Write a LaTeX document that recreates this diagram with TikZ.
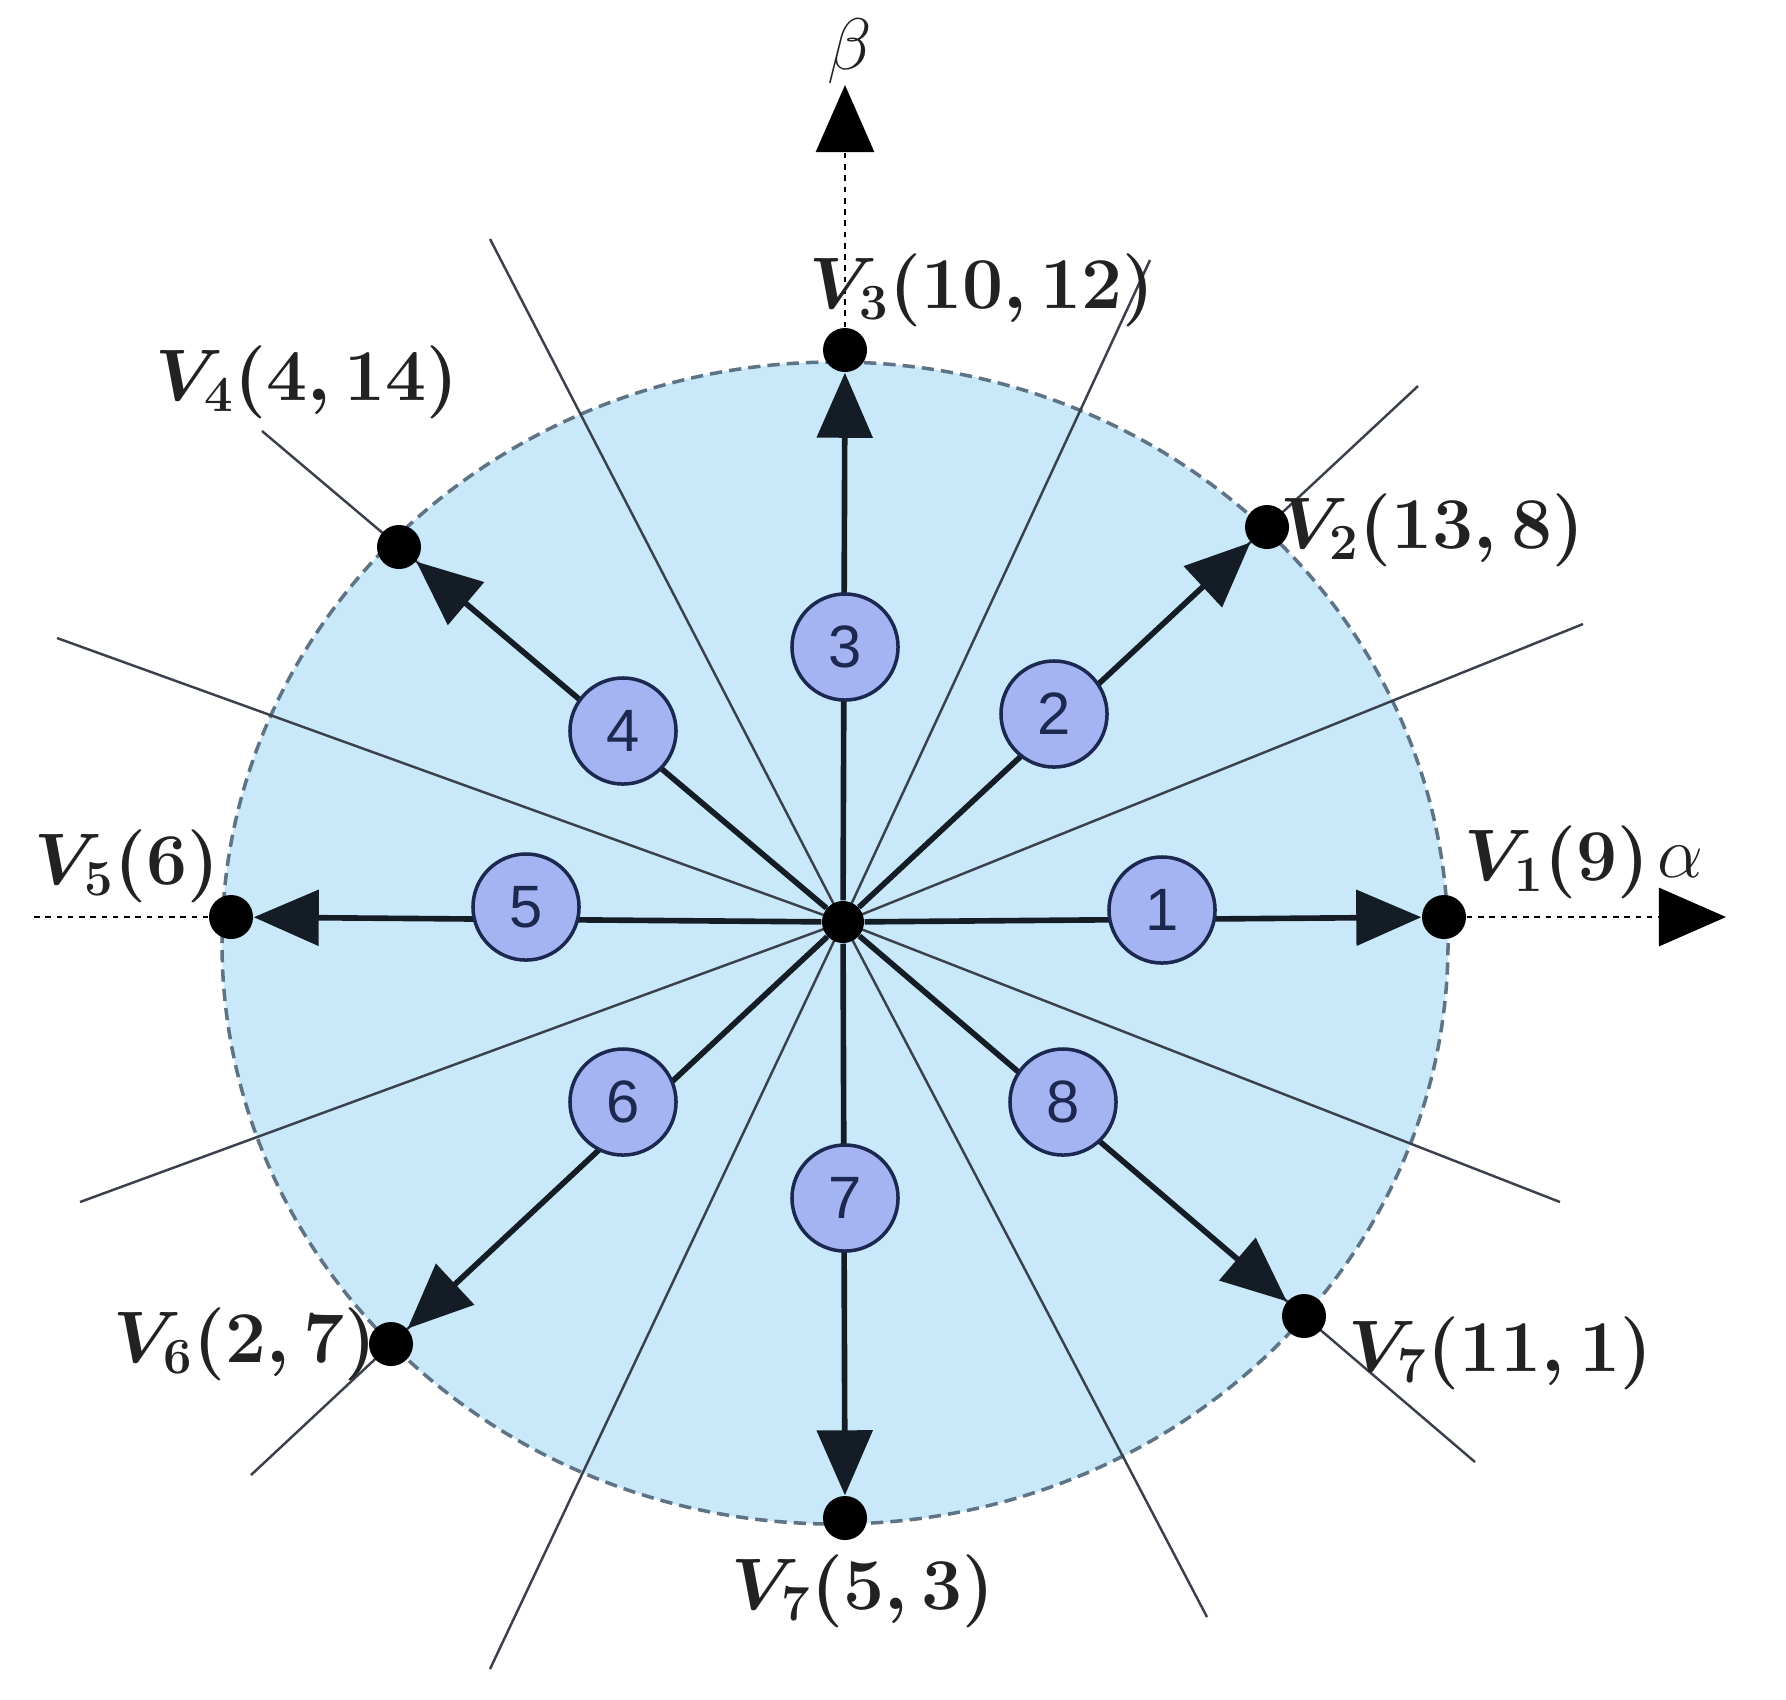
\documentclass[tikz,border=0pt]{standalone}
\usepackage{fontspec}
\newfontfamily\numfont{Liberation Sans}
\usetikzlibrary{arrows.meta}
\definecolor{diskfill}{HTML}{C9E8FA}
\definecolor{diskline}{HTML}{5E7384}
\definecolor{numfill}{HTML}{A4B4F2}
\definecolor{navy}{HTML}{1C2850}
\definecolor{vecline}{HTML}{141C26}
\definecolor{thinline}{HTML}{3A414C}
\definecolor{labtext}{HTML}{222222}
\begin{document}
\begin{tikzpicture}[x=0.01cm,y=-0.01cm,
  sector/.style={line width=0.7pt, draw=thinline},
  vec/.style={line width=1.6pt, draw=vecline, -{Triangle[length=0.65cm,width=0.55cm]}},
  tipdot/.style={circle, fill=black, inner sep=0pt, minimum size=0.44cm},
  ctrdot/.style={circle, fill=black, inner sep=0pt, minimum size=0.42cm},
  num/.style={circle, draw=navy, line width=1pt, fill=numfill, minimum size=1.06cm, inner sep=0pt, font=\numfont\fontsize{17}{19}\selectfont, text=navy},
  lab/.style={font=\fontsize{20}{22}\selectfont\boldmath, text=labtext, inner sep=0pt},
  axlab/.style={font=\fontsize{20}{22}\selectfont, text=labtext, inner sep=0pt},
  axis/.style={line width=0.8pt, draw=black, dash pattern=on 1.6pt off 1.6pt},
  axtip/.style={-{Triangle[length=0.67cm,width=0.58cm]}}
]
\useasboundingbox (0,0) rectangle (1786,1699);
% disk
\draw[fill=diskfill, draw=diskline, line width=1pt, dash pattern=on 3.5pt off 2pt]
  (835,943) ellipse [x radius=613, y radius=581];
% reference points
\coordinate (c) at (843,922);
\coordinate (e1) at (490,239);
\coordinate (e2) at (1150,260);
\coordinate (e3) at (1418,386);
\coordinate (e4) at (1583,624);
\coordinate (e5) at (1560,1202);
\coordinate (e6) at (1475,1462);
\coordinate (e7) at (1207,1617);
\coordinate (e8) at (490,1669);
\coordinate (e9) at (251,1475);
\coordinate (e10) at (80,1202);
\coordinate (e11) at (57,638);
\coordinate (e12) at (262,431);
\coordinate (axL) at (34,917);
\coordinate (axR) at (1726,917);
\coordinate (axT) at (845,85);
% sector boundary lines
\foreach \e in {e1,e2,e3,e4,e5,e6,e7,e8,e9,e10,e11,e12}
  \draw[sector] (c) -- (\e);
% vector end points
\node[tipdot] (v1) at (1444,917) {};
\node[tipdot] (v2) at (1267,527) {};
\node[tipdot] (v3) at (845,350) {};
\node[tipdot] (v4) at (399,547) {};
\node[tipdot] (v5) at (231,917) {};
\node[tipdot] (v6) at (391,1344) {};
\node[tipdot] (v7) at (845,1518) {};
\node[tipdot] (v8) at (1304,1316) {};
\node[ctrdot] (o) at (c) {};
% axes
\draw[axis] (axL) -- (v5);
\draw[axis, axtip] (v1) -- (axR);
\draw[axis, axtip] (v3) -- (axT);
% vectors
\foreach \v in {v1,v2,v3,v4,v5,v6,v7,v8}
  \draw[vec] (o) -- (\v);
% sector numbers
\node[num] (n1) at (1162,910) {1};
\node[num] (n2) at (1054,714) {2};
\node[num] (n3) at (845,647) {3};
\node[num] (n4) at (623,731) {4};
\node[num] (n5) at (526,907) {5};
\node[num] (n6) at (623,1102) {6};
\node[num] (n7) at (845,1198) {7};
\node[num] (n8) at (1063,1102) {8};
% labels
\node[axlab] (lbeta) at (850,51) {$\beta$};
\node[axlab] (lalpha) at (1680,862) {$\alpha$};
\node[lab] (l1) at (1557,862) {$V_1(9)$};
\node[lab] (l2) at (1432,530) {$V_2(13,8)$};
\node[lab] (l3) at (982,290) {$V_3(10,12)$};
\node[lab] (l4) at (307,382) {$V_4(4,14)$};
\node[lab] (l5) at (127,866) {$V_5(6)$};
\node[lab] (l6) at (245,1344) {$V_6(2,7)$};
\node[lab] (l7) at (863,1591) {$V_7(5,3)$};
\node[lab] (l8) at (1500,1353) {$V_7(11,1)$};
\end{tikzpicture}
\end{document}
